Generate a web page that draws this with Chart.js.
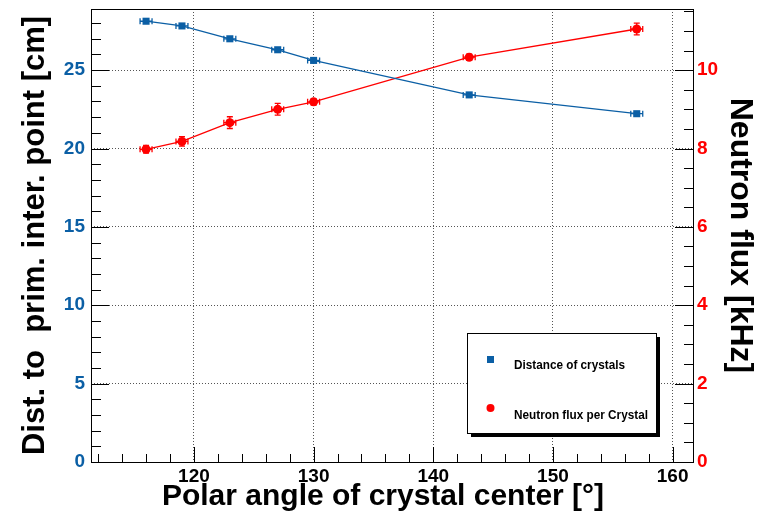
<!DOCTYPE html>
<html>
<head>
<meta charset="utf-8">
<script src="https://cdn.jsdelivr.net/npm/chart.js@4"></script>
<style>
html,body{margin:0;padding:0;background:#fff;}
canvas{display:block;}
</style>
</head>
<body>
<canvas id="c" width="771" height="517"></canvas>
<script>
// ---- data ----
const angles = [116, 119, 123, 127, 130, 143, 157];
const angleErr = [0.5, 0.5, 0.5, 0.5, 0.5, 0.5, 0.5];
const distance = [28.12, 27.82, 27.0, 26.3, 25.62, 23.42, 22.22];
const distErr = [0.05, 0.05, 0.05, 0.05, 0.05, 0.05, 0.05];
const flux = [7.98, 8.18, 8.66, 9.0, 9.19, 10.33, 11.05];
const fluxErr = [0.1, 0.12, 0.15, 0.15, 0.08, 0.08, 0.15];
const xTicks = [120, 130, 140, 150, 160];
const leftTicks = [0, 5, 10, 15, 20, 25];
const rightTicks = [0, 2, 4, 6, 8, 10];
const seriesNames = ['Distance of crystals', 'Neutron flux per Crystal'];
const xTitle = 'Polar angle of crystal center [°]';

const BLUE = '#0b5fa5';
const RED = '#ff0000';
const FONT = "'Liberation Sans', Arial, Helvetica, sans-serif";

const xMin = 111.4, xMax = 161.7;
const yLMax = 28.9, yRMax = 28.9 / 2.5;

function pts(xs, ys) { return xs.map((x, i) => ({x: x, y: ys[i]})); }

const decor = {
  id: 'decor',
  afterDatasetsDraw(chart) {
    const ctx = chart.ctx, a = chart.chartArea;
    const sx = chart.scales.x, sl = chart.scales.yL, sr = chart.scales.yR;
    ctx.save();
    const drawErr = (ys, yerr, scale, color) => {
      ctx.strokeStyle = color; ctx.lineWidth = 1.3;
      angles.forEach((x, i) => {
        const px = sx.getPixelForValue(x), py = scale.getPixelForValue(ys[i]);
        const x1 = sx.getPixelForValue(x - angleErr[i]), x2 = sx.getPixelForValue(x + angleErr[i]);
        const y1 = scale.getPixelForValue(ys[i] - yerr[i]), y2 = scale.getPixelForValue(ys[i] + yerr[i]);
        ctx.beginPath();
        ctx.moveTo(x1, py); ctx.lineTo(x2, py);
        ctx.moveTo(x1, py - 3); ctx.lineTo(x1, py + 3);
        ctx.moveTo(x2, py - 3); ctx.lineTo(x2, py + 3);
        ctx.moveTo(px, y1); ctx.lineTo(px, y2);
        ctx.moveTo(px - 3, y1); ctx.lineTo(px + 3, y1);
        ctx.moveTo(px - 3, y2); ctx.lineTo(px + 3, y2);
        ctx.stroke();
      });
    };
    drawErr(distance, distErr, sl, BLUE);
    drawErr(flux, fluxErr, sr, RED);

    ctx.strokeStyle = '#000'; ctx.lineWidth = 1;
    ctx.strokeRect(Math.round(a.left) + 0.5, Math.round(a.top) + 0.5, Math.round(a.right - a.left), Math.round(a.bottom - a.top));
    ctx.beginPath();
    for (let v = 112; v <= 161; v += 2) {
      const p = Math.round(sx.getPixelForValue(v)) + 0.5;
      const len = (v % 10 === 0) ? 15 : 8;
      ctx.moveTo(p, a.bottom); ctx.lineTo(p, a.bottom - len);
    }
    for (let v = 0; v <= 28; v += 1) {
      const p = Math.round(sl.getPixelForValue(v)) + 0.5;
      const len = (v % 5 === 0) ? 18 : 10;
      ctx.moveTo(a.left, p); ctx.lineTo(a.left + len, p);
    }
    for (let v = 0; v <= 11.5; v += 0.5) {
      const p = Math.round(sr.getPixelForValue(v)) + 0.5;
      const len = (Math.abs(v % 2) < 1e-9) ? 18 : 9;
      ctx.moveTo(a.right, p); ctx.lineTo(a.right - len, p);
    }
    ctx.stroke();

    // x-axis title
    ctx.fillStyle = '#000';
    ctx.font = 'bold 30px ' + FONT;
    ctx.textAlign = 'center';
    ctx.textBaseline = 'middle';
    ctx.fillText(xTitle, 383, 497);

    // legend box
    const bx = 467, by = 333, bw = 189, bh = 100;
    ctx.fillStyle = '#000';
    ctx.fillRect(bx + 4, by + 4, bw, bh);
    ctx.fillStyle = '#fff';
    ctx.fillRect(bx, by, bw, bh);
    ctx.strokeStyle = '#000'; ctx.lineWidth = 1;
    ctx.strokeRect(bx + 0.5, by + 0.5, bw, bh);
    ctx.fillStyle = BLUE;
    ctx.fillRect(487, 356, 7, 7);
    ctx.fillStyle = RED;
    ctx.beginPath(); ctx.arc(490.5, 408, 4, 0, Math.PI * 2); ctx.fill();
    ctx.fillStyle = '#000';
    ctx.font = 'bold 12px ' + FONT;
    ctx.textAlign = 'left';
    ctx.textBaseline = 'middle';
    const fitText = (t, x, y, w) => {
      const m = ctx.measureText(t).width;
      ctx.save(); ctx.translate(x, y); ctx.scale(w / m, 1); ctx.fillText(t, 0, 0); ctx.restore();
    };
    fitText(seriesNames[0], 514, 366, 111);
    fitText(seriesNames[1], 514, 416, 134);
    ctx.restore();
  }
};

const noPad = s => { s.paddingTop = 0; s.paddingBottom = 0; };

new Chart(document.getElementById('c'), {
  type: 'line',
  data: {
    datasets: [
      {
        label: seriesNames[0], data: pts(angles, distance), yAxisID: 'yL',
        borderColor: BLUE, backgroundColor: BLUE, borderWidth: 1.3,
        pointStyle: 'rect', pointRadius: 5, pointBorderWidth: 0, tension: 0
      },
      {
        label: seriesNames[1], data: pts(angles, flux), yAxisID: 'yR',
        borderColor: RED, backgroundColor: RED, borderWidth: 1.3,
        pointStyle: 'circle', pointRadius: 4.5, pointBorderWidth: 0, tension: 0
      }
    ]
  },
  options: {
    responsive: false, animation: false,
    layout: {padding: {top: 9, left: 0, right: 0, bottom: 0}},
    plugins: {legend: {display: false}, tooltip: {enabled: false}},
    scales: {
      x: {
        type: 'linear', min: xMin, max: xMax,
        afterFit(s) { s.height = 55; s.paddingLeft = 0; s.paddingRight = 0; },
        afterBuildTicks(s) { s.ticks = xTicks.map(v => ({value: v})); },
        ticks: {color: '#000', font: {family: FONT, size: 19, weight: 'bold'}, padding: 3},
        grid: {color: '#555', lineWidth: 1, drawTicks: false, drawOnChartArea: true},
        border: {display: false, dash: [1, 2]},
        title: {display: false}
      },
      yL: {
        type: 'linear', position: 'left', min: 0, max: yLMax,
        afterFit(s) { s.width = 91; noPad(s); },
        afterBuildTicks(s) { s.ticks = leftTicks.map(v => ({value: v})); },
        ticks: {color: BLUE, font: {family: FONT, size: 19, weight: 'bold'}, padding: 6},
        grid: {color: '#555', lineWidth: 1, drawTicks: false},
        border: {display: false, dash: [1, 2]},
        title: {display: true, text: 'Dist. to  prim. inter. point [cm]', color: '#000',
          font: {family: FONT, size: 31, weight: 'bold'}, padding: {top: 17, bottom: 0}}
      },
      yR: {
        type: 'linear', position: 'right', min: 0, max: yRMax,
        afterFit(s) { s.width = 78; noPad(s); },
        afterBuildTicks(s) { s.ticks = rightTicks.map(v => ({value: v})); },
        ticks: {color: RED, font: {family: FONT, size: 19, weight: 'bold'}, padding: 4},
        grid: {drawOnChartArea: false, drawTicks: false},
        border: {display: false},
        title: {display: true, text: 'Neutron flux [kHz]', color: '#000',
          font: {family: FONT, size: 32, weight: 'bold'}, padding: {top: 12, bottom: 0}}
      }
    }
  },
  plugins: [decor]
});
</script>
</body>
</html>
